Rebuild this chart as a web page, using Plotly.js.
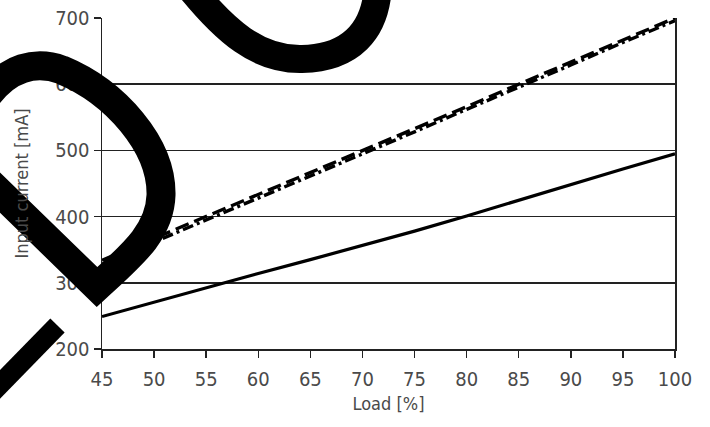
<!DOCTYPE html>
<html>
<head>
<meta charset="utf-8">
<script src="https://cdn.plot.ly/plotly-3.0.1.min.js"></script>
<style>
html,body{margin:0;padding:0;background:#fff;}
#chart{width:710px;height:427px;}
</style>
</head>
<body>
<div id="chart"></div>
<script>
// ---- data ----
const loadPct = [45, 50, 55, 60, 65, 70, 75, 80, 85, 90, 95, 100];
const currentSolid = [249, 271, 293, 314, 335, 356, 378, 401, 425, 448, 472, 495];
const currentDash = [334, 367, 400, 433, 466, 500, 533, 566, 600, 633, 667, 700];
const currentDashDot = [328, 362, 395, 428, 461, 495, 528, 562, 595, 629, 663, 696];
const xTicks = [45, 50, 55, 60, 65, 70, 75, 80, 85, 90, 95, 100];
const yTicks = [200, 300, 400, 500, 600, 700];

const FONT = "'DejaVu Sans Condensed', 'Liberation Sans Narrow', 'Arial Narrow', sans-serif";

// plot-area geometry (pixels) used for the decorative overlay strokes
const L = 102, R = 675, T = 18, B = 349;
function P(x, y) {
  return ((x - L) / (R - L)).toFixed(4) + ' ' + ((B - y) / (B - T)).toFixed(4);
}

const overlayShapes = [
  { // top U-shaped stroke
    path: 'M ' + P(180, -25) + ' C ' + P(226, 35) + ' ' + P(260, 60) + ' ' + P(302, 59) +
          ' C ' + P(350, 58) + ' ' + P(376, 32) + ' ' + P(378, -15),
    w: 28
  },
  { // left loop with pointed bottom
    path: 'M ' + P(-12, 95) + ' C ' + P(8, 68) + ' ' + P(35, 60) + ' ' + P(62, 70) +
          ' C ' + P(115, 92) + ' ' + P(162, 145) + ' ' + P(161, 195) +
          ' C ' + P(160, 232) + ' ' + P(132, 255) + ' ' + P(97, 287) +
          ' L ' + P(-15, 178),
    w: 29
  },
  { // bottom-left diagonal stroke
    path: 'M ' + P(57.5, 325.5) + ' L ' + P(-25, 410),
    w: 20
  }
].map(s => ({
  type: 'path', xref: 'paper', yref: 'paper', layer: 'above',
  path: s.path, line: {color: '#000', width: s.w}, fillcolor: 'rgba(0,0,0,0)'
}));

const traces = [
  {x: loadPct, y: currentSolid, mode: 'lines', line: {color: '#000', width: 3.2}},
  {x: loadPct, y: currentDash, mode: 'lines', line: {color: '#000', width: 3.4, dash: '14px,6px'}},
  {x: loadPct, y: currentDashDot, mode: 'lines', line: {color: '#000', width: 3.4, dash: '11px,4px,3px,4px'}}
];

const layout = {
  width: 710, height: 427,
  margin: {l: L, r: 710 - R, t: T, b: 427 - B, pad: 0},
  paper_bgcolor: '#fff', plot_bgcolor: '#fff',
  showlegend: false,
  font: {family: FONT, color: '#4a4a4a', size: 19},
  xaxis: {
    range: [45, 100], tickvals: xTicks, ticktext: xTicks.map(String),
    showgrid: false, zeroline: false,
    showline: true, linecolor: '#222', linewidth: 1.5,
    ticks: 'outside', ticklen: 7, tickcolor: '#222', tickwidth: 1.5,
    ticklabelstandoff: 4,
    tickfont: {family: FONT, size: 20, color: '#4a4a4a'},
    title: {text: 'Load [%]', font: {family: FONT, size: 18, color: '#4a4a4a'}, standoff: 8},
    fixedrange: true
  },
  yaxis: {
    range: [200, 700], tickvals: yTicks, ticktext: yTicks.map(String),
    showgrid: true, gridcolor: '#222', gridwidth: 1.5, zeroline: false,
    showline: true, linecolor: '#222', linewidth: 1.5, mirror: true,
    ticks: 'outside', ticklen: 7, tickcolor: '#222', tickwidth: 1.5,
    tickfont: {family: FONT, size: 20, color: '#4a4a4a'},
    title: {text: 'Input current [mA]', font: {family: FONT, size: 18, color: '#4a4a4a'}, standoff: 22},
    fixedrange: true
  },
  shapes: overlayShapes
};

Plotly.newPlot('chart', traces, layout, {displayModeBar: false, staticPlot: true});
</script>
</body>
</html>
